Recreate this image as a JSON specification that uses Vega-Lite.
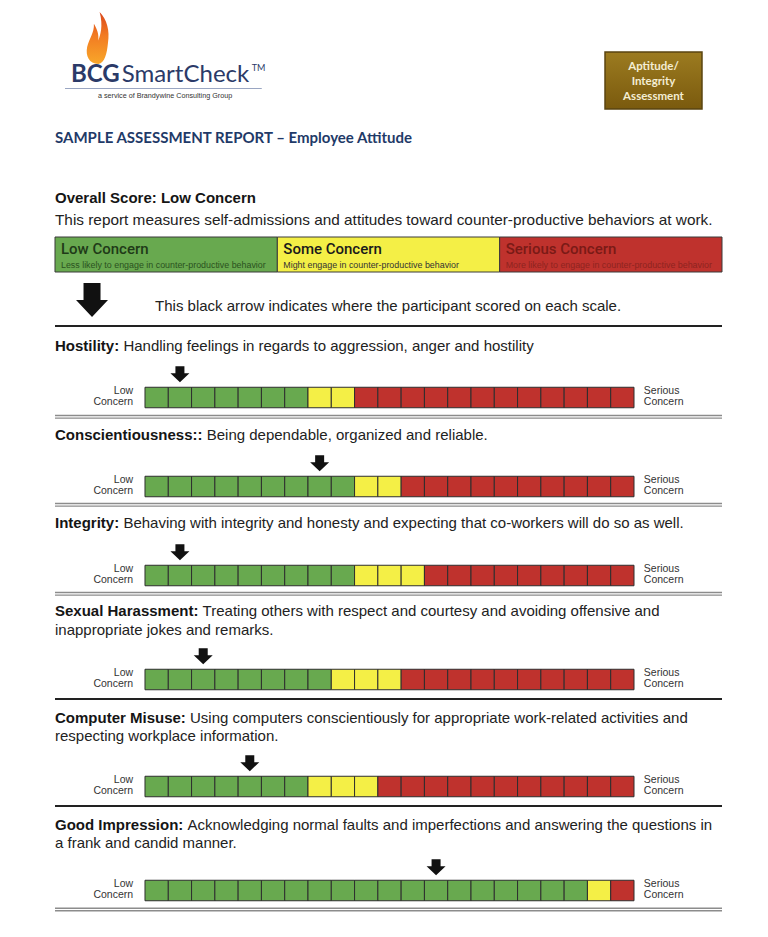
{
  "$schema": "https://vega.github.io/schema/vega-lite/v6.json",
  "width": 768,
  "height": 937,
  "padding": 0,
  "autosize": {"type": "none"},
  "background": "white",
  "config": {"view": {"stroke": null}},
  "datasets": {
    "scales": [
      {"k": 1, "name": "Hostility:", "desc1": "Handling feelings in regards to aggression, anger and hostility", "score": 2},
      {"k": 2, "name": "Conscientiousness::", "desc1": "Being dependable, organized and reliable.", "score": 8},
      {"k": 3, "name": "Integrity:", "desc1": "Behaving with integrity and honesty and expecting that co-workers will do so as well.", "score": 2},
      {"k": 4, "name": "Sexual Harassment:", "desc1": "Treating others with respect and courtesy and avoiding offensive and", "desc2": "inappropriate jokes and remarks.", "score": 3},
      {"k": 5, "name": "Computer Misuse:", "desc1": "Using computers conscientiously for appropriate work-related activities and", "desc2": "respecting workplace information.", "score": 5},
      {"k": 6, "name": "Good Impression:", "desc1": "Acknowledging normal faults and imperfections and answering the questions in", "desc2": "a frank and candid manner.", "score": 13}
    ],
    "zones": [
      {"zone": "Low", "label": "Low Concern", "note": "Less likely  to engage in counter-productive behavior"},
      {"zone": "Some", "label": "Some Concern", "note": "Might engage in counter-productive behavior"},
      {"zone": "Serious", "label": "Serious Concern", "note": "More likely  to engage in counter-productive behavior"}
    ],
    "cells": [
      {"k":1,"cell":1,"zone":"Low"},{"k":1,"cell":2,"zone":"Low"},{"k":1,"cell":3,"zone":"Low"},{"k":1,"cell":4,"zone":"Low"},{"k":1,"cell":5,"zone":"Low"},{"k":1,"cell":6,"zone":"Low"},{"k":1,"cell":7,"zone":"Low"},
      {"k":1,"cell":8,"zone":"Some"},{"k":1,"cell":9,"zone":"Some"},
      {"k":1,"cell":10,"zone":"Serious"},{"k":1,"cell":11,"zone":"Serious"},{"k":1,"cell":12,"zone":"Serious"},{"k":1,"cell":13,"zone":"Serious"},{"k":1,"cell":14,"zone":"Serious"},{"k":1,"cell":15,"zone":"Serious"},{"k":1,"cell":16,"zone":"Serious"},{"k":1,"cell":17,"zone":"Serious"},{"k":1,"cell":18,"zone":"Serious"},{"k":1,"cell":19,"zone":"Serious"},{"k":1,"cell":20,"zone":"Serious"},{"k":1,"cell":21,"zone":"Serious"},
      {"k":2,"cell":1,"zone":"Low"},{"k":2,"cell":2,"zone":"Low"},{"k":2,"cell":3,"zone":"Low"},{"k":2,"cell":4,"zone":"Low"},{"k":2,"cell":5,"zone":"Low"},{"k":2,"cell":6,"zone":"Low"},{"k":2,"cell":7,"zone":"Low"},{"k":2,"cell":8,"zone":"Low"},{"k":2,"cell":9,"zone":"Low"},
      {"k":2,"cell":10,"zone":"Some"},{"k":2,"cell":11,"zone":"Some"},
      {"k":2,"cell":12,"zone":"Serious"},{"k":2,"cell":13,"zone":"Serious"},{"k":2,"cell":14,"zone":"Serious"},{"k":2,"cell":15,"zone":"Serious"},{"k":2,"cell":16,"zone":"Serious"},{"k":2,"cell":17,"zone":"Serious"},{"k":2,"cell":18,"zone":"Serious"},{"k":2,"cell":19,"zone":"Serious"},{"k":2,"cell":20,"zone":"Serious"},{"k":2,"cell":21,"zone":"Serious"},
      {"k":3,"cell":1,"zone":"Low"},{"k":3,"cell":2,"zone":"Low"},{"k":3,"cell":3,"zone":"Low"},{"k":3,"cell":4,"zone":"Low"},{"k":3,"cell":5,"zone":"Low"},{"k":3,"cell":6,"zone":"Low"},{"k":3,"cell":7,"zone":"Low"},{"k":3,"cell":8,"zone":"Low"},{"k":3,"cell":9,"zone":"Low"},
      {"k":3,"cell":10,"zone":"Some"},{"k":3,"cell":11,"zone":"Some"},{"k":3,"cell":12,"zone":"Some"},
      {"k":3,"cell":13,"zone":"Serious"},{"k":3,"cell":14,"zone":"Serious"},{"k":3,"cell":15,"zone":"Serious"},{"k":3,"cell":16,"zone":"Serious"},{"k":3,"cell":17,"zone":"Serious"},{"k":3,"cell":18,"zone":"Serious"},{"k":3,"cell":19,"zone":"Serious"},{"k":3,"cell":20,"zone":"Serious"},{"k":3,"cell":21,"zone":"Serious"},
      {"k":4,"cell":1,"zone":"Low"},{"k":4,"cell":2,"zone":"Low"},{"k":4,"cell":3,"zone":"Low"},{"k":4,"cell":4,"zone":"Low"},{"k":4,"cell":5,"zone":"Low"},{"k":4,"cell":6,"zone":"Low"},{"k":4,"cell":7,"zone":"Low"},{"k":4,"cell":8,"zone":"Low"},
      {"k":4,"cell":9,"zone":"Some"},{"k":4,"cell":10,"zone":"Some"},{"k":4,"cell":11,"zone":"Some"},
      {"k":4,"cell":12,"zone":"Serious"},{"k":4,"cell":13,"zone":"Serious"},{"k":4,"cell":14,"zone":"Serious"},{"k":4,"cell":15,"zone":"Serious"},{"k":4,"cell":16,"zone":"Serious"},{"k":4,"cell":17,"zone":"Serious"},{"k":4,"cell":18,"zone":"Serious"},{"k":4,"cell":19,"zone":"Serious"},{"k":4,"cell":20,"zone":"Serious"},{"k":4,"cell":21,"zone":"Serious"},
      {"k":5,"cell":1,"zone":"Low"},{"k":5,"cell":2,"zone":"Low"},{"k":5,"cell":3,"zone":"Low"},{"k":5,"cell":4,"zone":"Low"},{"k":5,"cell":5,"zone":"Low"},{"k":5,"cell":6,"zone":"Low"},{"k":5,"cell":7,"zone":"Low"},
      {"k":5,"cell":8,"zone":"Some"},{"k":5,"cell":9,"zone":"Some"},{"k":5,"cell":10,"zone":"Some"},
      {"k":5,"cell":11,"zone":"Serious"},{"k":5,"cell":12,"zone":"Serious"},{"k":5,"cell":13,"zone":"Serious"},{"k":5,"cell":14,"zone":"Serious"},{"k":5,"cell":15,"zone":"Serious"},{"k":5,"cell":16,"zone":"Serious"},{"k":5,"cell":17,"zone":"Serious"},{"k":5,"cell":18,"zone":"Serious"},{"k":5,"cell":19,"zone":"Serious"},{"k":5,"cell":20,"zone":"Serious"},{"k":5,"cell":21,"zone":"Serious"},
      {"k":6,"cell":1,"zone":"Low"},{"k":6,"cell":2,"zone":"Low"},{"k":6,"cell":3,"zone":"Low"},{"k":6,"cell":4,"zone":"Low"},{"k":6,"cell":5,"zone":"Low"},{"k":6,"cell":6,"zone":"Low"},{"k":6,"cell":7,"zone":"Low"},{"k":6,"cell":8,"zone":"Low"},{"k":6,"cell":9,"zone":"Low"},{"k":6,"cell":10,"zone":"Low"},{"k":6,"cell":11,"zone":"Low"},{"k":6,"cell":12,"zone":"Low"},{"k":6,"cell":13,"zone":"Low"},{"k":6,"cell":14,"zone":"Low"},{"k":6,"cell":15,"zone":"Low"},{"k":6,"cell":16,"zone":"Low"},{"k":6,"cell":17,"zone":"Low"},{"k":6,"cell":18,"zone":"Low"},{"k":6,"cell":19,"zone":"Low"},
      {"k":6,"cell":20,"zone":"Some"},
      {"k":6,"cell":21,"zone":"Serious"}
    ],
    "header": [
      {"brand": "BCG", "product": "SmartCheck", "mark": "TM", "tagline": "a service of Brandywine Consulting Group", "badge": "Aptitude/\nIntegrity\nAssessment", "report": "SAMPLE ASSESSMENT REPORT – Employee Attitude", "overall": "Overall Score: Low Concern", "intro": "This report measures self-admissions and attitudes toward counter-productive behaviors at work.", "arrowNote": "This black arrow indicates where the participant scored on each scale."}
    ]
  },
  "resolve": {"scale": {"x": "independent", "y": "independent", "color": "independent"}},
  "layer": [
    {
      "data": {"name": "header"},
      "mark": {"type": "point", "filled": true, "opacity": 1, "strokeWidth": 0, "size": 2704,
        "shape": "M0.05,1 C-0.3,1 -0.45,0.7 -0.38,0.35 C-0.3,0 -0.1,-0.2 -0.12,-0.55 C0,-0.35 0.08,-0.15 0.05,0.1 C0.12,-0.1 0.25,-0.45 0.1,-1 C0.38,-0.7 0.5,-0.3 0.42,0.2 C0.38,0.6 0.3,0.95 0.05,1 Z",
        "fill": {"gradient": "linear", "x1": 0, "y1": 1, "x2": 0, "y2": 0, "stops": [{"offset": 0, "color": "#F8A72A"}, {"offset": 0.55, "color": "#F27B22"}, {"offset": 1, "color": "#D9461B"}]}},
      "encoding": {
        "x": {"datum": 0.063, "type": "quantitative", "scale": {"domain": [0, 1], "range": [55, 722], "zero": false, "nice": false}, "axis": null},
        "y": {"datum": 0, "type": "quantitative", "scale": {"domain": [0, 1, 1.5, 2, 3, 4, 5, 8, 9], "range": [38, 75, 88.5, 96, 138, 198, 220, 306, 326], "zero": false, "nice": false}, "axis": null}
      }
    },
    {
      "data": {"name": "header"},
      "mark": {"type": "text", "font": "Lato", "fontSize": 24, "fontWeight": "bold", "fill": "#2B3A68", "align": "left", "baseline": "middle"},
      "encoding": {
        "text": {"field": "brand"},
        "x": {"datum": 0.024, "type": "quantitative", "scale": {"domain": [0, 1], "range": [55, 722], "zero": false, "nice": false}, "axis": null},
        "y": {"datum": 1, "type": "quantitative", "scale": {"domain": [0, 1, 1.5, 2, 3, 4, 5, 8, 9], "range": [38, 75, 88.5, 96, 138, 198, 220, 306, 326], "zero": false, "nice": false}, "axis": null}
      }
    },
    {
      "data": {"name": "header"},
      "mark": {"type": "text", "font": "Lato", "fontSize": 24, "fill": "#2B3A68", "align": "left", "baseline": "middle"},
      "encoding": {
        "text": {"field": "product"},
        "x": {"datum": 0.1, "type": "quantitative", "scale": {"domain": [0, 1], "range": [55, 722], "zero": false, "nice": false}, "axis": null},
        "y": {"datum": 1, "type": "quantitative", "scale": {"domain": [0, 1, 1.5, 2, 3, 4, 5, 8, 9], "range": [38, 75, 88.5, 96, 138, 198, 220, 306, 326], "zero": false, "nice": false}, "axis": null}
      }
    },
    {
      "data": {"name": "header"},
      "mark": {"type": "text", "font": "Lato", "fontSize": 9, "fill": "#2B3A68", "align": "left", "baseline": "middle", "dy": -7},
      "encoding": {
        "text": {"field": "mark"},
        "x": {"datum": 0.295, "type": "quantitative", "scale": {"domain": [0, 1], "range": [55, 722], "zero": false, "nice": false}, "axis": null},
        "y": {"datum": 1, "type": "quantitative", "scale": {"domain": [0, 1, 1.5, 2, 3, 4, 5, 8, 9], "range": [38, 75, 88.5, 96, 138, 198, 220, 306, 326], "zero": false, "nice": false}, "axis": null}
      }
    },
    {
      "data": {"name": "header"},
      "mark": {"type": "rule", "stroke": "#9AA6C2", "strokeWidth": 1},
      "encoding": {
        "x": {"datum": 0.015, "type": "quantitative", "scale": {"domain": [0, 1], "range": [55, 722], "zero": false, "nice": false}, "axis": null},
        "x2": {"datum": 0.31},
        "y": {"datum": 1.5, "type": "quantitative", "scale": {"domain": [0, 1, 1.5, 2, 3, 4, 5, 8, 9], "range": [38, 75, 88.5, 96, 138, 198, 220, 306, 326], "zero": false, "nice": false}, "axis": null}
      }
    },
    {
      "data": {"name": "header"},
      "mark": {"type": "text", "font": "Liberation Sans", "fontSize": 7.2, "fill": "#333333", "align": "center", "baseline": "middle"},
      "encoding": {
        "text": {"field": "tagline"},
        "x": {"datum": 0.165, "type": "quantitative", "scale": {"domain": [0, 1], "range": [55, 722], "zero": false, "nice": false}, "axis": null},
        "y": {"datum": 2, "type": "quantitative", "scale": {"domain": [0, 1, 1.5, 2, 3, 4, 5, 8, 9], "range": [38, 75, 88.5, 96, 138, 198, 220, 306, 326], "zero": false, "nice": false}, "axis": null}
      }
    },
    {
      "data": {"name": "header"},
      "mark": {"type": "rect", "stroke": "#5A4410", "strokeWidth": 1.5,
        "fill": {"gradient": "linear", "x1": 0, "y1": 0, "x2": 0, "y2": 1, "stops": [{"offset": 0, "color": "#9C7B20"}, {"offset": 1, "color": "#7A5A0E"}]}},
      "encoding": {
        "x": {"datum": 0.8246, "type": "quantitative", "scale": {"domain": [0, 1], "range": [55, 722], "zero": false, "nice": false}, "axis": null},
        "x2": {"datum": 0.97},
        "y": {"datum": 0, "type": "quantitative", "scale": {"domain": [0, 1], "range": [52, 109], "zero": false, "nice": false}, "axis": null},
        "y2": {"datum": 1}
      }
    },
    {
      "data": {"name": "header"},
      "mark": {"type": "text", "font": "Lato", "fontSize": 11.5, "fontWeight": "bold", "fill": "#F4EDD3", "align": "center", "baseline": "middle", "lineBreak": "\n", "lineHeight": 15, "dy": -17},
      "encoding": {
        "text": {"field": "badge"},
        "x": {"datum": 0.8973, "type": "quantitative", "scale": {"domain": [0, 1], "range": [55, 722], "zero": false, "nice": false}, "axis": null},
        "y": {"datum": 0.56, "type": "quantitative", "scale": {"domain": [0, 1], "range": [52, 109], "zero": false, "nice": false}, "axis": null}
      }
    },
    {
      "data": {"name": "header"},
      "mark": {"type": "text", "font": "Lato", "fontSize": 15, "fontWeight": "bold", "fill": "#1F3A68", "align": "left", "baseline": "middle"},
      "encoding": {
        "text": {"field": "report"},
        "x": {"datum": 0, "type": "quantitative", "scale": {"domain": [0, 1], "range": [55, 722], "zero": false, "nice": false}, "axis": null},
        "y": {"datum": 3, "type": "quantitative", "scale": {"domain": [0, 1, 1.5, 2, 3, 4, 5, 8, 9], "range": [38, 75, 88.5, 96, 138, 198, 220, 306, 326], "zero": false, "nice": false}, "axis": null}
      }
    },
    {
      "data": {"name": "header"},
      "mark": {"type": "text", "font": "Liberation Sans", "fontSize": 15, "fontWeight": "bold", "fill": "#151515", "align": "left", "baseline": "middle"},
      "encoding": {
        "text": {"field": "overall"},
        "x": {"datum": 0, "type": "quantitative", "scale": {"domain": [0, 1], "range": [55, 722], "zero": false, "nice": false}, "axis": null},
        "y": {"datum": 4, "type": "quantitative", "scale": {"domain": [0, 1, 1.5, 2, 3, 4, 5, 8, 9], "range": [38, 75, 88.5, 96, 138, 198, 220, 306, 326], "zero": false, "nice": false}, "axis": null}
      }
    },
    {
      "data": {"name": "header"},
      "mark": {"type": "text", "font": "Liberation Sans", "fontSize": 15.35, "fill": "#222222", "align": "left", "baseline": "middle"},
      "encoding": {
        "text": {"field": "intro"},
        "x": {"datum": 0, "type": "quantitative", "scale": {"domain": [0, 1], "range": [55, 722], "zero": false, "nice": false}, "axis": null},
        "y": {"datum": 5, "type": "quantitative", "scale": {"domain": [0, 1, 1.5, 2, 3, 4, 5, 8, 9], "range": [38, 75, 88.5, 96, 138, 198, 220, 306, 326], "zero": false, "nice": false}, "axis": null}
      }
    },
    {
      "data": {"name": "zones"},
      "mark": {"type": "rect", "stroke": "#3A3A3A", "strokeWidth": 1},
      "encoding": {
        "x": {"field": "zone", "type": "nominal", "scale": {"domain": ["Low", "Some", "Serious"], "range": [55, 722], "paddingInner": 0, "paddingOuter": 0}, "axis": null},
        "y": {"datum": 0, "type": "quantitative", "scale": {"domain": [0, 1], "range": [237, 272], "zero": false, "nice": false}, "axis": null},
        "y2": {"datum": 1},
        "color": {"field": "zone", "type": "nominal", "scale": {"domain": ["Low", "Some", "Serious"], "range": ["#68A94F", "#F4EF46", "#BF322D"]}, "legend": null}
      }
    },
    {
      "data": {"name": "zones"},
      "mark": {"type": "text", "font": "Roboto", "fontSize": 15, "fontWeight": 500, "align": "left", "baseline": "middle", "dx": -105.2},
      "encoding": {
        "text": {"field": "label"},
        "x": {"field": "zone", "type": "nominal", "scale": {"domain": ["Low", "Some", "Serious"], "range": [55, 722], "paddingInner": 0, "paddingOuter": 0}, "axis": null},
        "y": {"datum": 0.34, "type": "quantitative", "scale": {"domain": [0, 1], "range": [237, 272], "zero": false, "nice": false}, "axis": null},
        "color": {"field": "zone", "type": "nominal", "scale": {"domain": ["Low", "Some", "Serious"], "range": ["#1F3A18", "#1A1A1A", "#7A1A16"]}, "legend": null}
      }
    },
    {
      "data": {"name": "zones"},
      "mark": {"type": "text", "font": "Liberation Sans", "fontSize": 8.9, "align": "left", "baseline": "middle", "dx": -105.2},
      "encoding": {
        "text": {"field": "note"},
        "x": {"field": "zone", "type": "nominal", "scale": {"domain": ["Low", "Some", "Serious"], "range": [55, 722], "paddingInner": 0, "paddingOuter": 0}, "axis": null},
        "y": {"datum": 0.8, "type": "quantitative", "scale": {"domain": [0, 1], "range": [237, 272], "zero": false, "nice": false}, "axis": null},
        "color": {"field": "zone", "type": "nominal", "scale": {"domain": ["Low", "Some", "Serious"], "range": ["#2A5220", "#333333", "#8E2420"]}, "legend": null}
      }
    },
    {
      "data": {"name": "header"},
      "mark": {"type": "point", "filled": true, "opacity": 1, "strokeWidth": 0, "fill": "#111111", "size": 1156,
        "shape": "M-0.5,-1.353 L0.5,-1.353 L0.5,-0.353 L0.94,-0.353 L0,0.647 L-0.94,-0.353 L-0.5,-0.353 Z"},
      "encoding": {
        "x": {"datum": 0.0555, "type": "quantitative", "scale": {"domain": [0, 1], "range": [55, 722], "zero": false, "nice": false}, "axis": null},
        "y": {"datum": 8, "type": "quantitative", "scale": {"domain": [0, 1, 1.5, 2, 3, 4, 5, 8, 9], "range": [38, 75, 88.5, 96, 138, 198, 220, 306, 326], "zero": false, "nice": false}, "axis": null}
      }
    },
    {
      "data": {"name": "header"},
      "mark": {"type": "text", "font": "Liberation Sans", "fontSize": 15, "fill": "#222222", "align": "left", "baseline": "middle"},
      "encoding": {
        "text": {"field": "arrowNote"},
        "x": {"datum": 0.15, "type": "quantitative", "scale": {"domain": [0, 1], "range": [55, 722], "zero": false, "nice": false}, "axis": null},
        "y": {"datum": 8, "type": "quantitative", "scale": {"domain": [0, 1, 1.5, 2, 3, 4, 5, 8, 9], "range": [38, 75, 88.5, 96, 138, 198, 220, 306, 326], "zero": false, "nice": false}, "axis": null}
      }
    },
    {
      "data": {"name": "header"},
      "mark": {"type": "rule", "stroke": "#222222", "strokeWidth": 2},
      "encoding": {
        "x": {"datum": 0, "type": "quantitative", "scale": {"domain": [0, 1], "range": [55, 722], "zero": false, "nice": false}, "axis": null},
        "x2": {"datum": 1},
        "y": {"datum": 9, "type": "quantitative", "scale": {"domain": [0, 1, 1.5, 2, 3, 4, 5, 8, 9], "range": [38, 75, 88.5, 96, 138, 198, 220, 306, 326], "zero": false, "nice": false}, "axis": null}
      }
    },
    {
      "data": {"name": "cells"},
      "mark": {"type": "point", "filled": true, "opacity": 1, "stroke": "#2E2E2E", "strokeWidth": 1, "size": 420.25,
        "shape": "M-1.136,-1 L1.136,-1 L1.136,1 L-1.136,1 Z"},
      "encoding": {
        "x": {"field": "cell", "type": "quantitative", "scale": {"domain": [1, 21], "range": [156.64, 622.36], "zero": false, "nice": false}, "axis": null},
        "y": {"field": "k", "type": "quantitative", "scale": {"domain": [1, 2, 3, 4, 5, 6], "range": [397.5, 486.5, 575.5, 679.5, 786.5, 890.5], "zero": false, "nice": false}, "axis": null},
        "color": {"field": "zone", "type": "nominal", "scale": {"domain": ["Low", "Some", "Serious"], "range": ["#68A94F", "#F4EF46", "#BF322D"]}, "legend": null}
      }
    },
    {
      "data": {"name": "scales"},
      "mark": {"type": "point", "filled": true, "opacity": 1, "strokeWidth": 0, "fill": "#111111", "size": 400,
        "shape": "M-0.45,-3.125 L0.45,-3.125 L0.45,-2.425 L0.95,-2.425 L0,-1.525 L-0.95,-2.425 L-0.45,-2.425 Z"},
      "encoding": {
        "x": {"field": "score", "type": "quantitative", "scale": {"domain": [1, 21], "range": [156.64, 622.36], "zero": false, "nice": false}, "axis": null},
        "y": {"field": "k", "type": "quantitative", "scale": {"domain": [1, 2, 3, 4, 5, 6], "range": [397.5, 486.5, 575.5, 679.5, 786.5, 890.5], "zero": false, "nice": false}, "axis": null}
      }
    },
    {
      "data": {"name": "scales"},
      "mark": {"type": "text", "text": "Low\nConcern", "lineBreak": "\n", "lineHeight": 11, "font": "Liberation Sans", "fontSize": 10.5, "fill": "#333333", "align": "right", "baseline": "middle", "dx": -23.5, "dy": -6.5},
      "encoding": {
        "x": {"datum": 1, "type": "quantitative", "scale": {"domain": [1, 21], "range": [156.64, 622.36], "zero": false, "nice": false}, "axis": null},
        "y": {"field": "k", "type": "quantitative", "scale": {"domain": [1, 2, 3, 4, 5, 6], "range": [397.5, 486.5, 575.5, 679.5, 786.5, 890.5], "zero": false, "nice": false}, "axis": null}
      }
    },
    {
      "data": {"name": "scales"},
      "mark": {"type": "text", "text": "Serious\nConcern", "lineBreak": "\n", "lineHeight": 11, "font": "Liberation Sans", "fontSize": 10.5, "fill": "#333333", "align": "left", "baseline": "middle", "dx": 21.5, "dy": -6.5},
      "encoding": {
        "x": {"datum": 21, "type": "quantitative", "scale": {"domain": [1, 21], "range": [156.64, 622.36], "zero": false, "nice": false}, "axis": null},
        "y": {"field": "k", "type": "quantitative", "scale": {"domain": [1, 2, 3, 4, 5, 6], "range": [397.5, 486.5, 575.5, 679.5, 786.5, 890.5], "zero": false, "nice": false}, "axis": null}
      }
    },
    {
      "data": {"name": "scales"},
      "mark": {"type": "text", "font": "Liberation Sans", "fontSize": 15, "fontWeight": "bold", "fill": "#151515", "align": "left", "baseline": "middle"},
      "encoding": {
        "text": {"field": "name"},
        "x": {"datum": 0, "type": "quantitative", "scale": {"domain": [0, 1], "range": [55, 722], "zero": false, "nice": false}, "axis": null},
        "y": {"field": "k", "type": "quantitative", "scale": {"domain": [1, 2, 3, 4, 5, 6], "range": [346, 435, 523, 611, 718, 825], "zero": false, "nice": false}, "axis": null}
      }
    },
    {
      "data": {"name": "scales"},
      "mark": {"type": "text", "font": "Liberation Sans", "fontSize": 15, "fill": "#222222", "align": "left", "baseline": "middle"},
      "encoding": {
        "text": {"field": "desc1"},
        "x": {"field": "k", "type": "quantitative", "scale": {"domain": [1, 2, 3, 4, 5, 6], "range": [123.4, 206.7, 123.4, 202.6, 190, 187.6], "zero": false, "nice": false}, "axis": null},
        "y": {"field": "k", "type": "quantitative", "scale": {"domain": [1, 2, 3, 4, 5, 6], "range": [346, 435, 523, 611, 718, 825], "zero": false, "nice": false}, "axis": null}
      }
    },
    {
      "data": {"name": "scales"},
      "transform": [{"filter": "isValid(datum.desc2)"}],
      "mark": {"type": "text", "font": "Liberation Sans", "fontSize": 15, "fill": "#222222", "align": "left", "baseline": "middle"},
      "encoding": {
        "text": {"field": "desc2"},
        "x": {"datum": 0, "type": "quantitative", "scale": {"domain": [0, 1], "range": [55, 722], "zero": false, "nice": false}, "axis": null},
        "y": {"field": "k", "type": "quantitative", "scale": {"domain": [4, 5, 6], "range": [630, 736, 843], "zero": false, "nice": false}, "axis": null}
      }
    },
    {
      "data": {"name": "scales"},
      "transform": [{"filter": {"field": "k", "oneOf": [1, 2, 3, 6]}}],
      "mark": {"type": "rule", "stroke": "#8C8C8C", "strokeWidth": 4},
      "encoding": {
        "x": {"datum": 0, "type": "quantitative", "scale": {"domain": [0, 1], "range": [55, 722], "zero": false, "nice": false}, "axis": null},
        "x2": {"datum": 1},
        "y": {"field": "k", "type": "quantitative", "scale": {"domain": [1, 2, 3, 6], "range": [416.8, 504.8, 593.8, 909.5], "zero": false, "nice": false}, "axis": null}
      }
    },
    {
      "data": {"name": "scales"},
      "transform": [{"filter": {"field": "k", "oneOf": [1, 2, 3, 6]}}],
      "mark": {"type": "rule", "stroke": "#FFFFFF", "strokeWidth": 1.2},
      "encoding": {
        "x": {"datum": 0, "type": "quantitative", "scale": {"domain": [0, 1], "range": [55, 722], "zero": false, "nice": false}, "axis": null},
        "x2": {"datum": 1},
        "y": {"field": "k", "type": "quantitative", "scale": {"domain": [1, 2, 3, 6], "range": [416.8, 504.8, 593.8, 909.5], "zero": false, "nice": false}, "axis": null}
      }
    },
    {
      "data": {"name": "scales"},
      "transform": [{"filter": {"field": "k", "oneOf": [4, 5]}}],
      "mark": {"type": "rule", "stroke": "#222222", "strokeWidth": 2},
      "encoding": {
        "x": {"datum": 0, "type": "quantitative", "scale": {"domain": [0, 1], "range": [55, 722], "zero": false, "nice": false}, "axis": null},
        "x2": {"datum": 1},
        "y": {"field": "k", "type": "quantitative", "scale": {"domain": [4, 5], "range": [699, 806], "zero": false, "nice": false}, "axis": null}
      }
    }
  ]
}
